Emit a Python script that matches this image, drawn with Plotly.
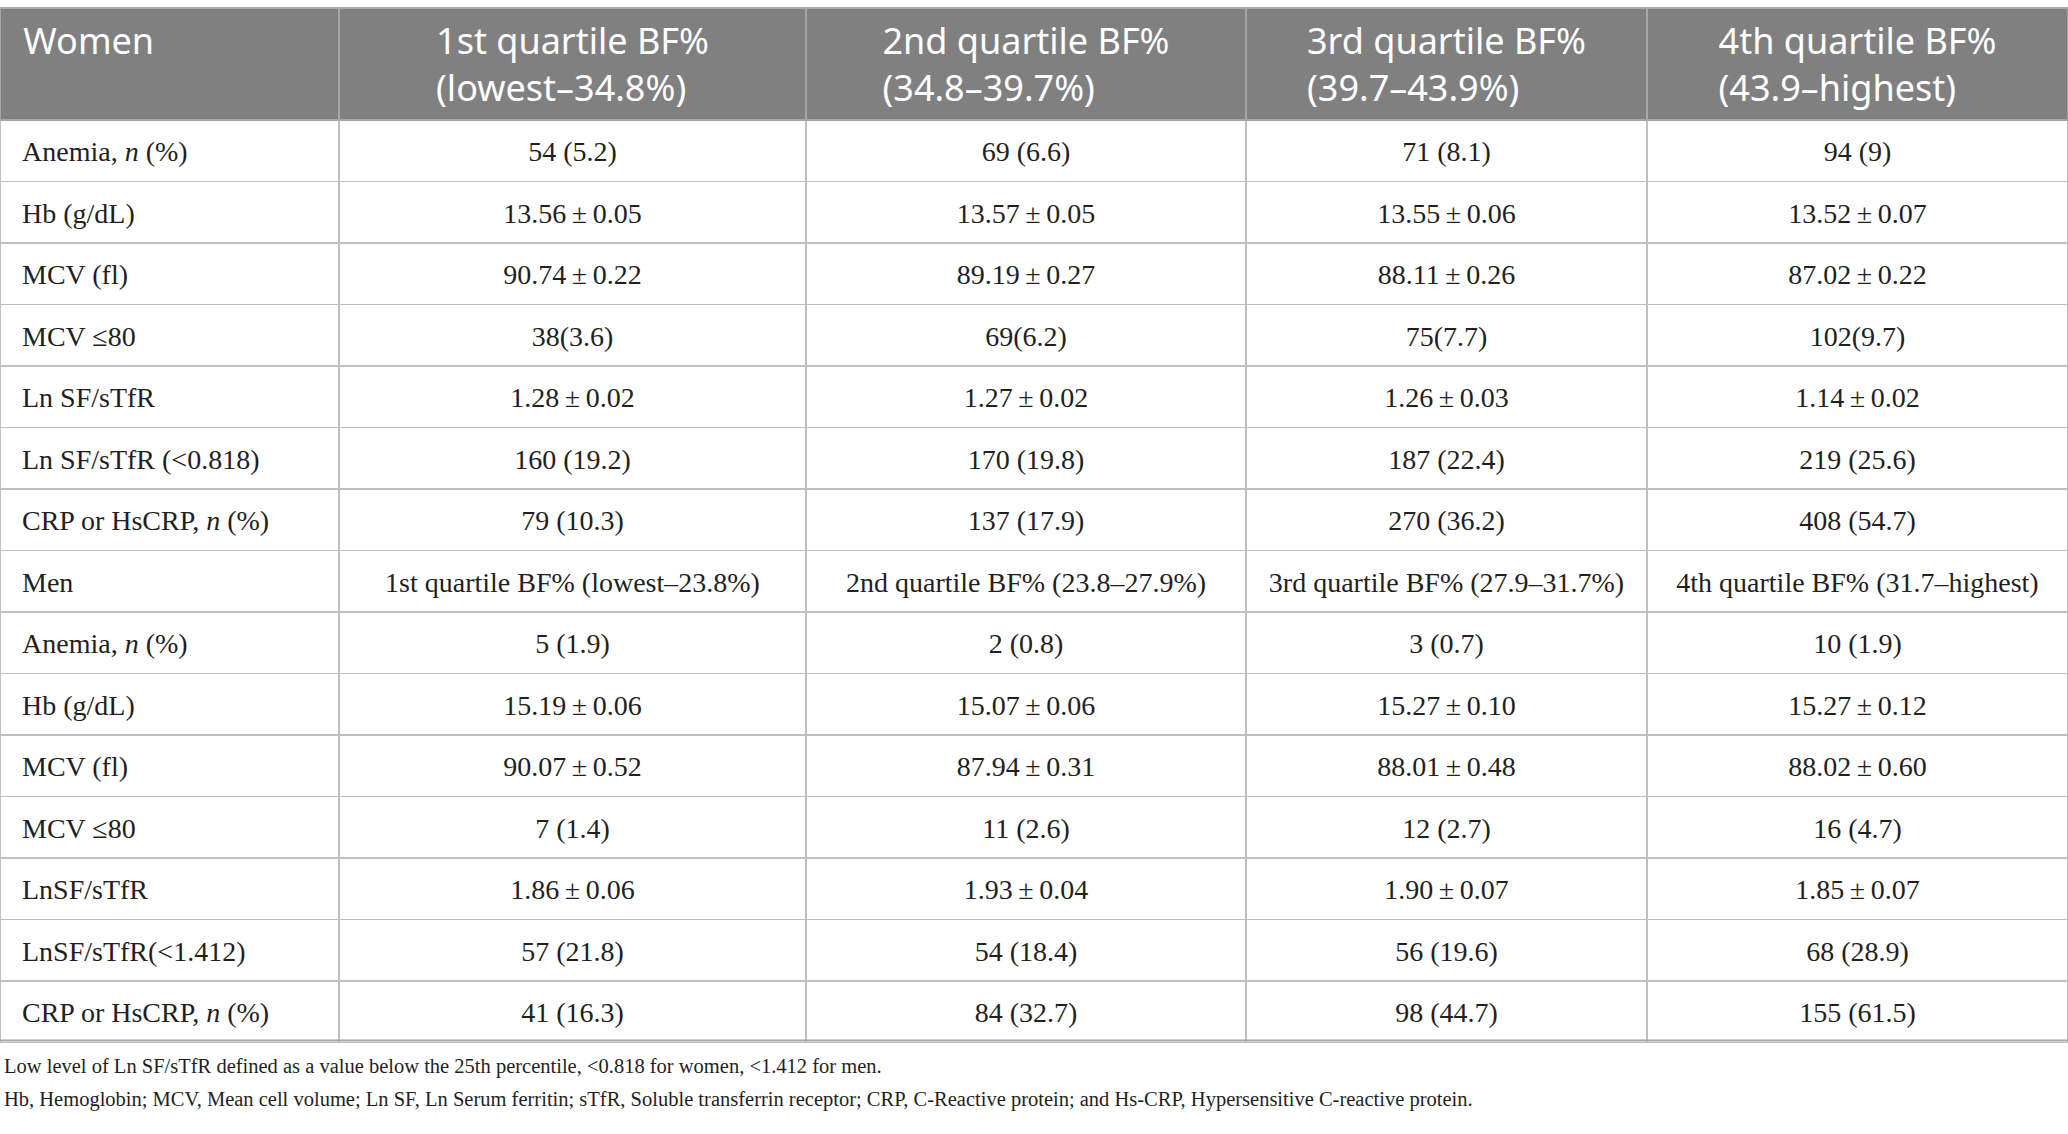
import plotly.graph_objects as go

W, H = 2068, 1134

header = [
    "Women",
    "1st quartile BF%<br>(lowest–34.8%)",
    "2nd quartile BF%<br>(34.8–39.7%)",
    "3rd quartile BF%<br>(39.7–43.9%)",
    "4th quartile BF%<br>(43.9–highest)",
]

row_labels = [
    "Anemia, <i>n</i> (%)",
    "Hb (g/dL)",
    "MCV (fl)",
    "MCV ≤80",
    "Ln SF/sTfR",
    "Ln SF/sTfR (<0.818)",
    "CRP or HsCRP, <i>n</i> (%)",
    "Men",
    "Anemia, <i>n</i> (%)",
    "Hb (g/dL)",
    "MCV (fl)",
    "MCV ≤80",
    "LnSF/sTfR",
    "LnSF/sTfR(<1.412)",
    "CRP or HsCRP, <i>n</i> (%)",
]

q1 = [
    "54 (5.2)", "13.56 ± 0.05", "90.74 ± 0.22", "38(3.6)", "1.28 ± 0.02",
    "160 (19.2)", "79 (10.3)", "1st quartile BF% (lowest–23.8%)",
    "5 (1.9)", "15.19 ± 0.06", "90.07 ± 0.52", "7 (1.4)", "1.86 ± 0.06",
    "57 (21.8)", "41 (16.3)",
]
q2 = [
    "69 (6.6)", "13.57 ± 0.05", "89.19 ± 0.27", "69(6.2)", "1.27 ± 0.02",
    "170 (19.8)", "137 (17.9)", "2nd quartile BF% (23.8–27.9%)",
    "2 (0.8)", "15.07 ± 0.06", "87.94 ± 0.31", "11 (2.6)", "1.93 ± 0.04",
    "54 (18.4)", "84 (32.7)",
]
q3 = [
    "71 (8.1)", "13.55 ± 0.06", "88.11 ± 0.26", "75(7.7)", "1.26 ± 0.03",
    "187 (22.4)", "270 (36.2)", "3rd quartile BF% (27.9–31.7%)",
    "3 (0.7)", "15.27 ± 0.10", "88.01 ± 0.48", "12 (2.7)", "1.90 ± 0.07",
    "56 (19.6)", "98 (44.7)",
]
q4 = [
    "94 (9)", "13.52 ± 0.07", "87.02 ± 0.22", "102(9.7)", "1.14 ± 0.02",
    "219 (25.6)", "408 (54.7)", "4th quartile BF% (31.7–highest)",
    "10 (1.9)", "15.27 ± 0.12", "88.02 ± 0.60", "16 (4.7)", "1.85 ± 0.07",
    "68 (28.9)", "155 (61.5)",
]

col_widths = [339, 467, 440, 401, 421]

footnotes = [
    "Low level of Ln SF/sTfR defined as a value below the 25th percentile, "
    "<0.818 for women, <1.412 for men.",
    "Hb, Hemoglobin; MCV, Mean cell volume; Ln SF, Ln Serum ferritin; sTfR, "
    "Soluble transferrin receptor; CRP, C-Reactive protein; and Hs-CRP, "
    "Hypersensitive C-reactive protein.",
]

top_px = 8
header_h = 110
row_h = 61.5
text_drop = 10  # plotly puts cell text at the top; drop it to the middle
align = ["left", "center", "center", "center", "center"]
n_rows = len(row_labels)
clear = "rgba(0,0,0,0)"


def cell(s):
    return "<span>" + s.replace(" ± ", "\u2009±\u2009") + "</span>"


body = [["\u00a0\u00a0" + s for s in row_labels], q1, q2, q3, q4]

# grid + header text
grid = go.Table(
    columnwidth=col_widths,
    domain=dict(x=[0, 1], y=[0, 1 - top_px / H]),
    header=dict(
        values=["\u00a0\u2009" + header[0] + "<br>"] + header[1:],
        align=align,
        fill_color="#808080",
        line=dict(color="#a6a6a6", width=1.5),
        font=dict(family="Noto Sans", size=36, color="white"),
        height=header_h,
    ),
    cells=dict(
        values=[[""] * n_rows for _ in body],
        fill_color="white",
        line=dict(color="#bfbfbf", width=1.5),
        height=row_h,
    ),
)

# body text, same grid dropped by a few pixels
text = go.Table(
    columnwidth=col_widths,
    domain=dict(x=[0, 1], y=[0, 1 - (top_px + text_drop) / H]),
    header=dict(
        values=[""] * 5,
        fill_color=clear,
        line=dict(color=clear, width=0),
        height=header_h,
    ),
    cells=dict(
        values=[[cell(s) for s in col] for col in body],
        align=align,
        fill_color=clear,
        line=dict(color=clear, width=0),
        font=dict(family="Liberation Serif", size=28, color="#231f20"),
        height=row_h,
    ),
)

fig = go.Figure([grid, text])

table_bottom = top_px + header_h + row_h * n_rows
for y_px in (top_px, table_bottom):
    fig.add_shape(type="line", xref="paper", yref="paper", x0=0, x1=1,
                  y0=1 - y_px / H, y1=1 - y_px / H,
                  line=dict(color="#a8a8a8", width=2))

for i, note in enumerate(footnotes):
    fig.add_annotation(
        text=note, xref="paper", yref="paper", x=0.001,
        y=1 - (1066 + 33 * i) / H, xanchor="left", yanchor="middle",
        showarrow=False,
        font=dict(family="Liberation Serif", size=20.5, color="#231f20"),
    )

fig.update_layout(
    width=W, height=H,
    margin=dict(l=0, r=0, t=0, b=0),
    paper_bgcolor="white",
)

fig.write_html("out.html", config={"displayModeBar": False},
               post_script="document.body.style.margin='0';")
